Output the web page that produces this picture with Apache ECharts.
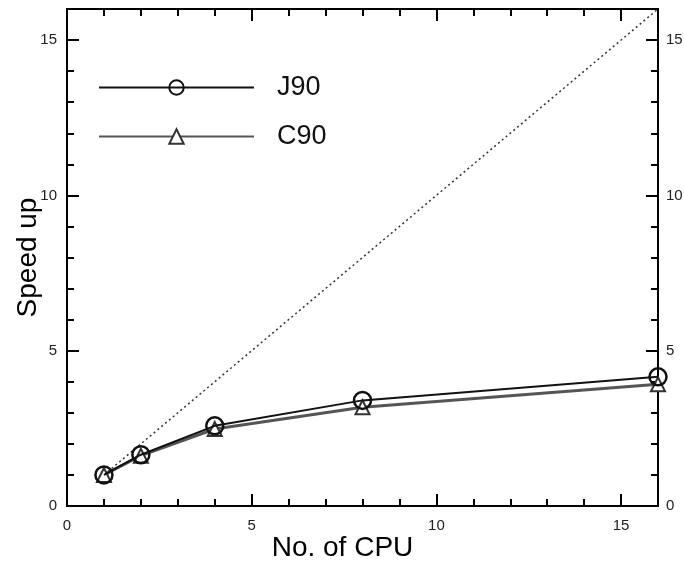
<!DOCTYPE html>
<html><head><meta charset="utf-8">
<script src="https://cdn.jsdelivr.net/npm/echarts@6/dist/echarts.min.js"></script>
<style>html,body{margin:0;padding:0;background:#fff}#c{width:684px;height:564px}</style>
</head><body><div id="c"></div>
<script>
const cpus = [1, 2, 4, 8, 16];
const j90 = [1.0, 1.65, 2.58, 3.4, 4.16];
const c90 = [1.0, 1.62, 2.48, 3.18, 3.92];
const ideal = [[1, 1], [16, 16]];
const tickLabels = [0, 5, 10, 15];

const chart = echarts.init(document.getElementById('c'));
const FONT = 'Liberation Sans, Arial, sans-serif';
const lab = v => (tickLabels.indexOf(v) >= 0 ? String(v) : '');
function ax(pos, interval, len, showLabel, margin, extra) {
  return Object.assign({
    type: 'value', min: 0, max: 16, interval: interval, position: pos,
    axisLine: {show: true, onZero: false, lineStyle: {color: '#000', width: 2}},
    axisTick: {show: true, inside: true, length: len, lineStyle: {color: '#000', width: 2}},
    axisLabel: {show: showLabel, formatter: lab, color: '#222', fontSize: 15, fontFamily: FONT, margin: margin},
    splitLine: {show: false}
  }, extra || {});
}
chart.setOption({
  backgroundColor: '#fff',
  animation: false,
  grid: {left: 67, right: 26, top: 9, bottom: 58, containLabel: false, outerBoundsMode: 'none'},
  legend: {
    data: ['J90', 'C90'], orient: 'vertical', left: 93, top: 69,
    itemWidth: 155, itemHeight: 18, itemGap: 22,
    textStyle: {fontSize: 27, fontFamily: FONT, color: '#111', padding: [0, 0, 0, 18]}
  },
  xAxis: [
    ax('bottom', 5, 12, true, 12, {name: 'No. of CPU', nameLocation: 'middle', nameGap: 28, nameMoveOverlap: false,
      nameTextStyle: {fontSize: 28, fontFamily: FONT, color: '#000', padding: [0, 40, 0, 0]}}),
    ax('bottom', 1, 7, false, 8),
    ax('top', 5, 12, false, 8),
    ax('top', 1, 7, false, 8)
  ],
  yAxis: [
    ax('left', 5, 12, true, 10, {name: 'Speed up', nameLocation: 'middle', nameGap: 25, nameMoveOverlap: false,
      nameTextStyle: {fontSize: 28, fontFamily: FONT, color: '#000'}}),
    ax('left', 1, 7, false, 8),
    ax('right', 5, 12, true, 8),
    ax('right', 1, 7, false, 8)
  ],
  series: [
    {name: 'ideal', type: 'line', data: ideal, symbol: 'none', silent: true,
      lineStyle: {color: '#333', width: 1.5, type: [2, 3]}, z: 1},
    {name: 'C90', type: 'line', data: cpus.map((x, i) => [x, c90[i]]),
      symbol: 'triangle', symbolSize: 14, showSymbol: true,
      itemStyle: {color: '#fff', borderColor: '#333', borderWidth: 2},
      lineStyle: {color: '#555', width: 3}, z: 2},
    {name: 'J90', type: 'line', data: cpus.map((x, i) => [x, j90[i]]),
      symbol: 'circle', symbolSize: 17, showSymbol: true,
      itemStyle: {color: 'rgba(255,255,255,0)', borderColor: '#111', borderWidth: 2.5},
      lineStyle: {color: '#111', width: 2}, z: 3}
  ]
});
</script></body></html>
